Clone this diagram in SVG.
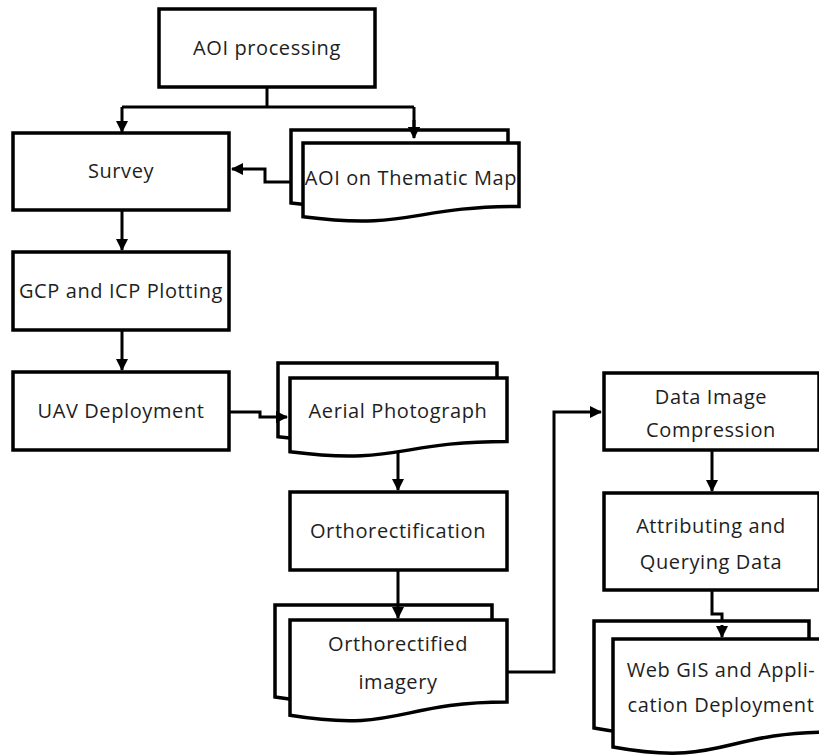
<svg xmlns="http://www.w3.org/2000/svg" width="819" height="756" viewBox="0 0 819 756">
<defs>
<marker id="ah" markerWidth="12" markerHeight="12" refX="11" refY="6" orient="auto" markerUnits="userSpaceOnUse">
<path d="M0,0 L12,6 L0,12 Z" fill="#000"/>
</marker>
<style>
.box{fill:#fff;stroke:#000;stroke-width:3.5}
.doc{fill:#fff;stroke:#000;stroke-width:3.5;stroke-linejoin:miter}
.con{fill:none;stroke:#000;stroke-width:3}
.t{font-family:"Open Sans","DejaVu Sans",sans-serif;font-size:20px;letter-spacing:0.6px;fill:#1e1e1e;text-anchor:middle}
</style>
</defs>
<rect width="819" height="756" fill="#fff"/>

<g id="connectors">
<path class="con" d="M267,87 V107"/>
<path class="con" d="M122,107 H414"/>
<path class="con" d="M122,107 V132" marker-end="url(#ah)"/>
<path class="con" d="M414,107 V138" marker-end="url(#ah)"/>
<path class="con" d="M303,182 H265 V169 H232" marker-end="url(#ah)"/>
<path class="con" d="M122,210 V250" marker-end="url(#ah)"/>
<path class="con" d="M122,330 V370" marker-end="url(#ah)"/>
<path class="con" d="M229,412 H260 V417 H287" marker-end="url(#ah)"/>
<path class="con" d="M398,452 V490" marker-end="url(#ah)"/>
<path class="con" d="M507,672 H554 V412 H601" marker-end="url(#ah)"/>
<path class="con" d="M712,450 V491" marker-end="url(#ah)"/>
<path class="con" d="M712,590 V614 H722 V637" marker-end="url(#ah)"/>
</g>

<g id="aoi-processing">
<rect class="box" x="159" y="9" width="216" height="78"/>
<text class="t" x="267" y="55">AOI processing</text>
</g>

<g id="survey">
<rect class="box" x="13" y="133" width="216" height="77"/>
<text class="t" x="121" y="178">Survey</text>
</g>

<g id="aoi-thematic-map">
<path class="doc" d="M291,130 H508 V192.6 C399.5,192.6 399.5,216.4 291,202.9 Z"/>
<path class="doc" d="M303,143 H519 V206.4 C411,206.4 411,230.5 303,216.8 Z"/>
<text class="t" x="411" y="185">AOI on Thematic Map</text>
</g>
<path class="con" d="M414,120 V138" marker-end="url(#ah)"/>

<g id="gcp-icp">
<rect class="box" x="13" y="252" width="216" height="78"/>
<text class="t" x="121" y="298">GCP and ICP Plotting</text>
</g>

<g id="uav">
<rect class="box" x="13" y="372" width="216" height="78"/>
<text class="t" x="121" y="418">UAV Deployment</text>
</g>

<g id="aerial-photograph">
<path class="doc" d="M278,363 H497 V426.4 C387.5,426.4 387.5,450.5 278,436.8 Z"/>
<path class="doc" d="M290,378 H507 V441.4 C398.5,441.4 398.5,465.5 290,451.8 Z"/>
<text class="t" x="398" y="418">Aerial Photograph</text>
</g>
<path class="con" d="M276,417 H287" marker-end="url(#ah)"/>

<g id="orthorectification">
<rect class="box" x="290" y="492" width="217" height="78"/>
<text class="t" x="398" y="538">Orthorectification</text>
</g>

<g id="orthorectified-imagery">
<path class="doc" d="M275,605 H492 V684 C383.5,684 383.5,714 275,697 Z"/>
<path class="doc" d="M290,620 H507 V702 C398.5,702 398.5,733 290,715.3 Z"/>
<text class="t" x="398" y="651">Orthorectified</text>
<text class="t" x="398" y="689">imagery</text>
</g>
<path class="con" d="M398,571 V618" marker-end="url(#ah)"/>

<g id="data-image-compression">
<rect class="box" x="604" y="373" width="215" height="77"/>
<text class="t" x="711" y="404">Data Image</text>
<text class="t" x="711" y="437">Compression</text>
</g>

<g id="attributing">
<rect class="box" x="604" y="493" width="215" height="97"/>
<text class="t" x="711" y="533">Attributing and</text>
<text class="t" x="711" y="569">Querying Data</text>
</g>

<g id="web-gis">
<path class="doc" d="M594,621 H809 V713 C701.5,713 701.5,748 594,728 Z"/>
<path class="doc" d="M613,639 H831 V732 C722,732 722,767 613,747 Z"/>
<text class="t" x="721" y="677">Web GIS and Appli-</text>
<text class="t" x="721" y="712">cation Deployment</text>
</g>
<path class="con" d="M722,625 V637" marker-end="url(#ah)"/>
</svg>
